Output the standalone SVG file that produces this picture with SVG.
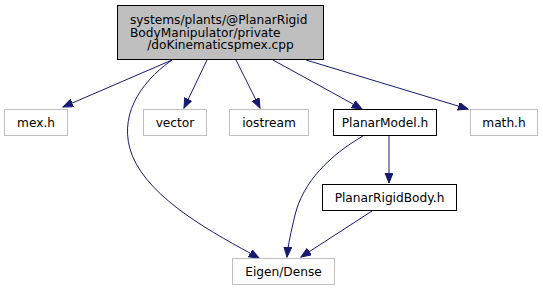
<svg xmlns="http://www.w3.org/2000/svg" width="543" height="291" viewBox="0 0 543 291">
  <style>
    .box { fill: #ffffff; stroke: #bfbfbf; stroke-width: 1; }
    .boxdark { fill: #ffffff; stroke: #000000; stroke-width: 1; }
    .root { fill: #bfbfbf; stroke: #000000; stroke-width: 1; }
    text { font-family: "DejaVu Sans", "Liberation Sans", sans-serif; font-size: 12.2px; fill: #000000; }
    .edge { fill: none; stroke: #191970; stroke-width: 1; }
  </style>
  <defs>
    <marker id="arrow" markerUnits="userSpaceOnUse" markerWidth="11" markerHeight="9" refX="10" refY="4" orient="auto">
      <path d="M0,0 L10,4 L0,8 z" fill="#191970" stroke="#191970" stroke-width="1"/>
    </marker>
  </defs>
  <rect width="543" height="291" fill="#ffffff"/>

  <g id="edges">
    <path class="edge" marker-end="url(#arrow)" d="M172,60 L63,107"/>
    <path class="edge" marker-end="url(#arrow)" d="M172,60 C138,84 118,118 132,155 C150,200 215,234 259,258"/>
    <path class="edge" marker-end="url(#arrow)" d="M207,60 L184,108"/>
    <path class="edge" marker-end="url(#arrow)" d="M236,60 L260,108"/>
    <path class="edge" marker-end="url(#arrow)" d="M273,60 L362,109"/>
    <path class="edge" marker-end="url(#arrow)" d="M306,60 L468,109"/>
    <path class="edge" marker-end="url(#arrow)" d="M389,136 L389,183"/>
    <path class="edge" marker-end="url(#arrow)" d="M363,136 C330,155 303,182 295,215 C291,232 288,245 287,257"/>
    <path class="edge" marker-end="url(#arrow)" d="M372,211 L301,257"/>
  </g>

  <g id="node-root">
    <rect class="root" x="117.5" y="5.5" width="206" height="54"/>
    <text x="130" y="24">systems/plants/@PlanarRigid</text>
    <text x="130" y="36.5">BodyManipulator/private</text>
    <text x="220.5" y="49" text-anchor="middle">/doKinematicspmex.cpp</text>
  </g>
  <g id="node-mex">
    <rect class="box" x="4.5" y="109.5" width="63" height="26"/>
    <text x="36" y="127" text-anchor="middle">mex.h</text>
  </g>
  <g id="node-vector">
    <rect class="box" x="143.5" y="109.5" width="63" height="26"/>
    <text x="175" y="127" text-anchor="middle">vector</text>
  </g>
  <g id="node-iostream">
    <rect class="box" x="229.5" y="109.5" width="79" height="26"/>
    <text x="269" y="127" text-anchor="middle">iostream</text>
  </g>
  <g id="node-planarmodel">
    <rect class="boxdark" x="333.5" y="109.5" width="103" height="26"/>
    <text x="385" y="127" text-anchor="middle">PlanarModel.h</text>
  </g>
  <g id="node-math">
    <rect class="box" x="470.5" y="109.5" width="67" height="26"/>
    <text x="504" y="127" text-anchor="middle">math.h</text>
  </g>
  <g id="node-planarrigidbody">
    <rect class="boxdark" x="322.5" y="184.5" width="134" height="26"/>
    <text x="389.5" y="202" text-anchor="middle">PlanarRigidBody.h</text>
  </g>
  <g id="node-eigen">
    <rect class="box" x="232.5" y="258.5" width="102" height="26"/>
    <text x="283.5" y="276" text-anchor="middle">Eigen/Dense</text>
  </g>
</svg>
